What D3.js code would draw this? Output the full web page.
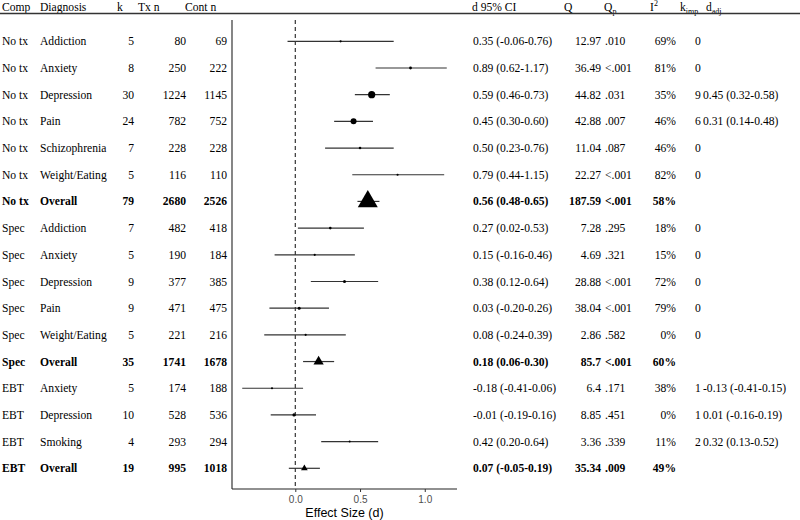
<!DOCTYPE html>
<html lang="en">

<head>
    <meta charset="UTF-8">
    <title>Forest plot: effect sizes by comparison</title>
    <script src="https://d3js.org/d3.v7.min.js"></script>
    <style>
        body { margin: 0; background: #fff; }
        svg text { font-family: "Liberation Serif", "Times New Roman", serif; font-size: 11.6px; fill: #000; }
        svg .axis-text { font-family: "Liberation Sans", Arial, sans-serif; }
    </style>
</head>

<body>
    <svg width="800" height="520"></svg>
    <script>
        const comp = ["No tx", "No tx", "No tx", "No tx", "No tx", "No tx", "No tx",
            "Spec", "Spec", "Spec", "Spec", "Spec", "Spec",
            "EBT", "EBT", "EBT", "EBT"];
        const diagnosis = ["Addiction", "Anxiety", "Depression", "Pain", "Schizophrenia", "Weight/Eating", "Overall",
            "Addiction", "Anxiety", "Depression", "Pain", "Weight/Eating", "Overall",
            "Anxiety", "Depression", "Smoking", "Overall"];
        const isOverall = diagnosis.map(d => d === "Overall");
        const k = [5, 8, 30, 24, 7, 5, 79, 7, 5, 9, 9, 5, 35, 5, 10, 4, 19];
        const txN = [80, 250, 1224, 782, 228, 116, 2680, 482, 190, 377, 471, 221, 1741, 174, 528, 293, 995];
        const contN = [69, 222, 1145, 752, 228, 110, 2526, 418, 184, 385, 475, 216, 1678, 188, 536, 294, 1018];
        const dVal = [0.35, 0.89, 0.59, 0.45, 0.50, 0.79, 0.56, 0.27, 0.15, 0.38, 0.03, 0.08, 0.18, -0.18, -0.01, 0.42, 0.07];
        const dLo = [-0.06, 0.62, 0.46, 0.30, 0.23, 0.44, 0.48, 0.02, -0.16, 0.12, -0.20, -0.24, 0.06, -0.41, -0.19, 0.20, -0.05];
        const dHi = [0.76, 1.17, 0.73, 0.60, 0.76, 1.15, 0.65, 0.53, 0.46, 0.64, 0.26, 0.39, 0.30, 0.06, 0.16, 0.64, 0.19];
        const qVal = [12.97, 36.49, 44.82, 42.88, 11.04, 22.27, 187.59, 7.28, 4.69, 28.88, 38.04, 2.86, 85.7, 6.4, 8.85, 3.36, 35.34];
        const qP = [".010", "<.001", ".031", ".007", ".087", "<.001", "<.001", ".295", ".321", "<.001", "<.001", ".582", "<.001", ".171", ".451", ".339", ".009"];
        const iSq = [69, 81, 35, 46, 46, 82, 58, 18, 15, 72, 79, 0, 60, 38, 0, 11, 49];
        const kImp = [0, 0, 9, 6, 0, 0, null, 0, 0, 0, 0, 0, null, 1, 1, 2, null];
        const dAdj = [null, null, 0.45, 0.31, null, null, null, null, null, null, null, null, null, -0.13, 0.01, 0.32, null];
        const dAdjLo = [null, null, 0.32, 0.14, null, null, null, null, null, null, null, null, null, -0.41, -0.16, 0.13, null];
        const dAdjHi = [null, null, 0.58, 0.48, null, null, null, null, null, null, null, null, null, 0.15, 0.19, 0.52, null];
        const xTicks = [0, 0.5, 1];

        const rows = diagnosis.map((d, i) => ({
            i, comp: comp[i], diag: d, overall: isOverall[i], k: k[i], tx: txN[i], cont: contN[i],
            d: dVal[i], lo: dLo[i], hi: dHi[i], q: qVal[i], qp: qP[i], i2: iSq[i],
            kimp: kImp[i], adj: dAdj[i], adjLo: dAdjLo[i], adjHi: dAdjHi[i]
        }));

        // plain hyphen for negatives, like the source table
        const locale = d3.formatLocale({ decimal: ".", thousands: ",", grouping: [3], currency: ["", ""], minus: "-" });
        const f2 = locale.format(".2f");
        const ci = (m, l, h) => `${f2(m)} (${f2(l)}-${f2(h)})`;

        const svg = d3.select("svg");

        const plotLeft = 232, plotRight = 457, axisY = 489;

        const y = d3.scalePoint().domain(rows.map(r => r.i)).range([41.3, 468.3]);

        const lo = d3.min(dLo), hi = d3.max(dHi), pad = (hi - lo) * 0.05;
        const x = d3.scaleLinear().domain([lo - pad, hi + pad]).range([plotLeft, plotRight]);

        const dotDiam = d3.scaleLinear().domain([0, 30]).range([1.2, 7.2]);
        const triWidth = d3.scaleLinear().domain([0, 79]).range([2.5, 20]);

        // header
        const head = svg.append("g").attr("class", "header");
        function headText(xp, txt, sub, sup) {
            const t = head.append("text").attr("x", xp).attr("y", 10.5).text(txt);
            if (sub) t.append("tspan").attr("dy", 3).style("font-size", "8px").text(sub);
            if (sup) t.append("tspan").attr("dy", -5).style("font-size", "8px").text(sup);
        }
        headText(2, "Comp");
        headText(40, "Diagnosis");
        headText(117, "k");
        headText(138, "Tx n");
        headText(185, "Cont n");
        headText(472, "d 95% CI");
        headText(564, "Q");
        headText(604, "Q", "p");
        headText(650, "I", null, "2");
        headText(680, "k", "imp");
        headText(706, "d", "adj");
        svg.append("line")
            .attr("x1", 0).attr("x2", 800).attr("y1", 13.5).attr("y2", 13.5)
            .attr("stroke", "#333").attr("stroke-width", 1.6);

        // table text
        const rowG = svg.append("g").selectAll("g").data(rows).join("g")
            .attr("transform", d => `translate(0,${y(d.i)})`)
            .style("font-weight", d => d.overall ? "bold" : null);

        const cell = (xp, anchor, fn) => rowG.append("text")
            .attr("x", xp).attr("dy", "0.35em").attr("text-anchor", anchor).text(fn);

        cell(2, "start", d => d.comp);
        cell(40, "start", d => d.diag);
        cell(134, "end", d => d.k);
        cell(186, "end", d => d.tx);
        cell(227, "end", d => d.cont);
        cell(473, "start", d => ci(d.d, d.lo, d.hi));
        cell(601, "end", d => d.q);
        cell(605, "start", d => d.qp);
        cell(676, "end", d => d.i2 + "%");
        cell(698, "middle", d => d.kimp === null ? "" : d.kimp);
        cell(703, "start", d => d.adj === null ? "" : ci(d.adj, d.adjLo, d.adjHi));

        // plot area
        svg.append("line")
            .attr("x1", x(0)).attr("x2", x(0)).attr("y1", 20).attr("y2", axisY)
            .attr("stroke", "#333").attr("stroke-width", 1.2).attr("stroke-dasharray", "4,3");

        svg.append("line")
            .attr("x1", plotLeft).attr("x2", plotLeft).attr("y1", 20).attr("y2", axisY)
            .attr("stroke", "#222").attr("stroke-width", 1.1);

        const xAxis = svg.append("g")
            .attr("transform", `translate(0,${axisY})`)
            .call(d3.axisBottom(x).tickValues(xTicks).tickFormat(d3.format(".1f")).tickSize(3).tickPadding(4));
        xAxis.select(".domain").attr("stroke", "#222").attr("stroke-width", 1.1)
            .attr("d", `M${plotLeft},0H${plotRight}`);
        xAxis.selectAll(".tick line").attr("stroke", "#333");
        xAxis.selectAll(".tick text").attr("class", "axis-text")
            .style("font-size", "10px").style("fill", "#4d4d4d");

        svg.append("text").attr("class", "axis-text")
            .attr("x", (plotLeft + plotRight) / 2).attr("y", 517)
            .attr("text-anchor", "middle").style("font-size", "12.5px")
            .text("Effect Size (d)");

        const marks = svg.append("g");
        marks.selectAll("line").data(rows).join("line")
            .attr("x1", d => x(d.lo)).attr("x2", d => x(d.hi))
            .attr("y1", d => y(d.i)).attr("y2", d => y(d.i))
            .attr("stroke", "#333").attr("stroke-width", 1.2);

        marks.selectAll("circle").data(rows.filter(d => !d.overall)).join("circle")
            .attr("cx", d => x(d.d)).attr("cy", d => y(d.i))
            .attr("r", d => dotDiam(d.k) / 2).attr("fill", "#000");

        marks.selectAll("path").data(rows.filter(d => d.overall)).join("path")
            .attr("transform", d => `translate(${x(d.d)},${y(d.i)})`)
            .attr("d", d => d3.symbol(d3.symbolTriangle, Math.sqrt(3) / 4 * triWidth(d.k) ** 2)())
            .attr("fill", "#000");
    </script>
</body>

</html>
